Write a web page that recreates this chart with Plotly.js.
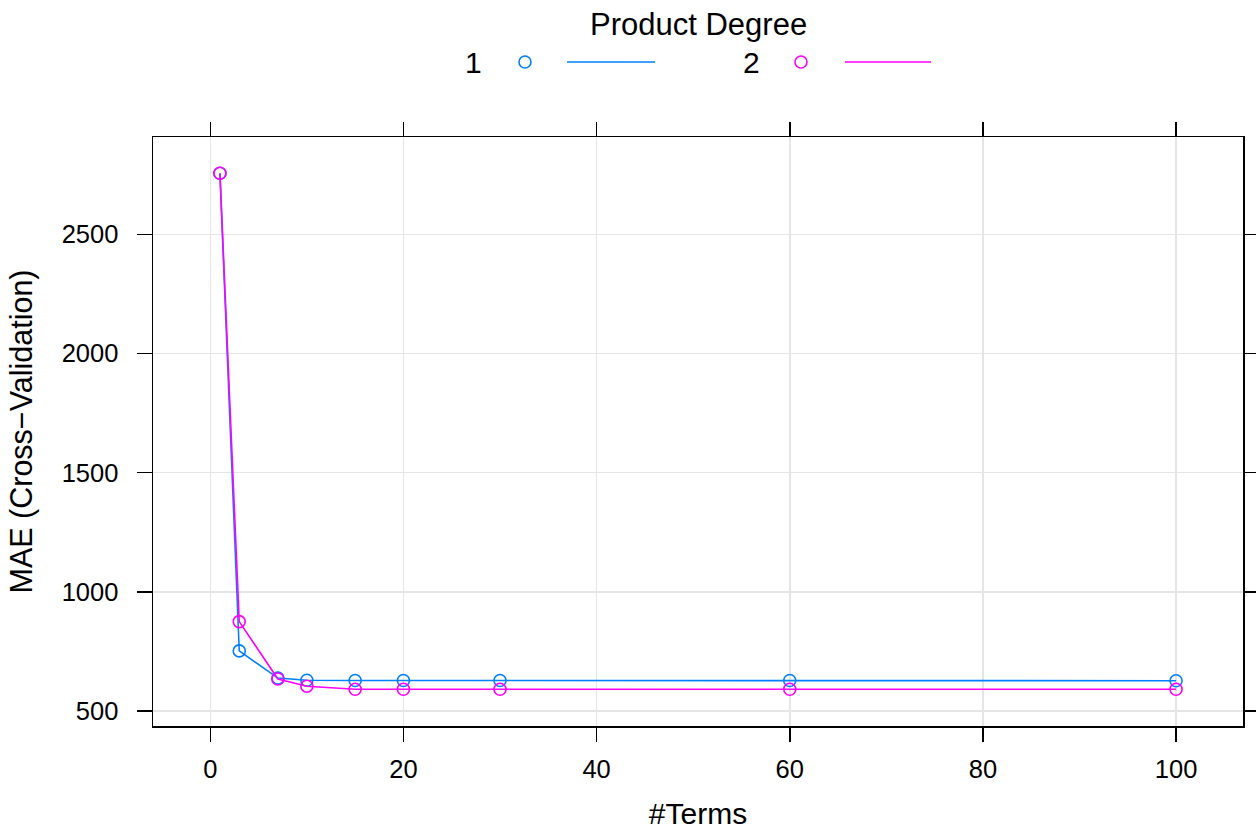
<!DOCTYPE html>
<html>
<head>
<meta charset="utf-8">
<script src="https://cdn.plot.ly/plotly-3.0.1.min.js"></script>
<style>html,body{margin:0;padding:0;background:#fff;}#chart{width:1256px;height:830px;}</style>
</head>
<body>
<div id="chart"></div>
<script>
const terms = [1, 3, 7, 10, 15, 20, 30, 60, 100];
const degree1MAE = [2756, 752, 638, 629, 628, 628, 628, 628, 627];
const degree2MAE = [2756, 875, 634, 604, 591, 591, 591, 591, 591];
const seriesNames = ['1', '2'];
const xTicks = [0, 20, 40, 60, 80, 100];
const yTicks = [500, 1000, 1500, 2000, 2500];

const colors = ['#0080ff', '#ff00ff'];
const font = 'Liberation Sans, Arial, Helvetica, sans-serif';

function series(y, i) {
  return {
    x: terms, y: y, type: 'scatter', mode: 'lines+markers', name: seriesNames[i],
    line: {color: colors[i], width: 1.6},
    marker: {symbol: 'circle-open', size: 12, color: colors[i], line: {width: 1.6, color: colors[i]}},
    showlegend: false
  };
}

const data = [series(degree1MAE, 0), series(degree2MAE, 1)];

// legend (lattice-style key) built in paper coordinates
const W = 1090, H = 589, L = 153, B = 726;
const px = v => (v - L) / W;
const py = v => (B - v) / H;
const keyRow = 62;
const keyItems = [
  {label: seriesNames[0], tx: 473, cx: 525, lx0: 567, lx1: 655, color: colors[0]},
  {label: seriesNames[1], tx: 751, cx: 801, lx0: 845, lx1: 931, color: colors[1]}
];
const annotations = [{
  xref: 'paper', yref: 'paper', x: px(698), y: py(25), text: 'Product Degree', showarrow: false,
  xanchor: 'center', yanchor: 'middle', font: {family: font, size: 31, color: '#000'}
}];
const shapes = [];
keyItems.forEach(k => {
  annotations.push({xref: 'paper', yref: 'paper', x: px(k.tx), y: py(keyRow), text: k.label, showarrow: false,
    xanchor: 'center', yanchor: 'middle', font: {family: font, size: 30, color: '#000'}});
  shapes.push({type: 'circle', xref: 'paper', yref: 'paper', xsizemode: 'pixel', ysizemode: 'pixel',
    xanchor: px(k.cx), yanchor: py(keyRow), x0: -6, x1: 6, y0: -6, y1: 6,
    line: {color: k.color, width: 1.6}});
  shapes.push({type: 'line', xref: 'paper', yref: 'paper', x0: px(k.lx0), x1: px(k.lx1), y0: py(keyRow), y1: py(keyRow),
    line: {color: k.color, width: 1.6}});
});

const layout = {
  width: 1256, height: 830,
  margin: {l: 153, r: 13, t: 137, b: 104},
  paper_bgcolor: '#fff', plot_bgcolor: '#fff',
  font: {family: font, color: '#000'},
  showlegend: false,
  xaxis: {
    range: [-5.93, 106.93], tickvals: xTicks, ticktext: xTicks.map(String),
    showgrid: true, gridcolor: '#e6e6e6', gridwidth: 1.5, zeroline: false,
    showline: true, linecolor: '#000', linewidth: 1.5, mirror: 'ticks',
    ticks: 'outside', ticklen: 14, tickwidth: 1.5, tickcolor: '#000',
    ticklabelstandoff: 6,
    tickfont: {family: font, size: 25.5, color: '#000'},
    title: {text: '#Terms', font: {family: font, size: 30, color: '#000'}, standoff: 29}
  },
  yaxis: {
    range: [437, 2908], tickvals: yTicks, ticktext: yTicks.map(String),
    showgrid: true, gridcolor: '#e6e6e6', gridwidth: 1.5, zeroline: false,
    showline: true, linecolor: '#000', linewidth: 1.5, mirror: 'ticks',
    ticks: 'outside', ticklen: 15, tickwidth: 1.5, tickcolor: '#000',
    ticklabelstandoff: 13,
    tickfont: {family: font, size: 25.5, color: '#000'},
    title: {text: 'MAE (Cross\u2212Validation)', font: {family: font, size: 30.5, color: '#000'}, standoff: 20}
  },
  annotations: annotations,
  shapes: shapes
};

Plotly.newPlot('chart', data, layout, {displayModeBar: false, staticPlot: true});
</script>
</body>
</html>
